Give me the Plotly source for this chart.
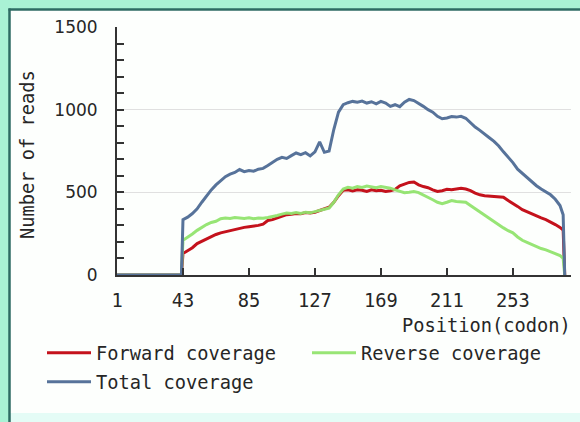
import plotly.graph_objects as go

# ---- data ----
codon = [1, 42, 43, 46, 49, 52, 55, 58, 61, 64, 67, 70, 73, 76, 79, 82, 85, 88, 91, 94, 97,
         100, 103, 106, 109, 112, 115, 118, 121, 124, 127, 130, 133, 136, 139, 142, 145,
         148, 151, 154, 157, 160, 163, 166, 169, 172, 175, 178, 181, 184, 187, 190, 193,
         196, 199, 202, 205, 208, 211, 214, 217, 220, 223, 226, 229, 232, 235, 238, 241,
         244, 247, 250, 253, 256, 259, 262, 265, 268, 271, 274, 277, 280, 283, 285, 286]

total = [0, 0, 335, 350, 372, 400, 440, 480, 515, 545, 568, 595, 610, 620, 638, 625, 632, 628,
         640, 645, 662, 682, 700, 712, 705, 722, 738, 728, 740, 720, 745, 805, 742, 750, 880,
         985, 1030, 1042, 1050, 1045, 1052, 1040, 1048, 1035, 1050, 1040, 1020, 1030, 1018,
         1045, 1062, 1055, 1040, 1020, 1000, 985, 960, 945, 950, 958, 955, 960, 948, 920, 895,
         875, 850, 830, 808, 780, 745, 715, 680, 640, 615, 585, 560, 540, 520, 500, 485, 458,
         420, 365, 0]

forward = [0, 0, 130, 145, 165, 190, 205, 215, 235, 245, 255, 262, 270, 275, 283, 288, 292,
           295, 300, 308, 330, 335, 345, 352, 365, 368, 372, 370, 378, 375, 380, 390, 400, 410,
           440, 480, 512, 515, 508, 515, 512, 505, 515, 510, 512, 505, 510, 518, 540, 552, 560,
           562, 545, 535, 528, 515, 505, 510, 518, 515, 522, 525, 520, 510, 495, 485, 480, 478,
           475, 474, 470, 450, 435, 415, 395, 382, 370, 358, 345, 335, 322, 305, 288, 272, 0]

reverse = [0, 0, 210, 228, 248, 270, 290, 305, 318, 325, 340, 345, 342, 348, 345, 342, 346,
           340, 345, 343, 348, 352, 360, 368, 375, 372, 378, 372, 380, 376, 382, 390, 398, 405,
           440, 485, 520, 530, 525, 535, 530, 538, 532, 528, 535, 530, 525, 515, 505, 498, 500,
           505, 498, 485, 470, 455, 440, 432, 440, 450, 445, 442, 440, 420, 400, 380, 362, 340,
           320, 305, 285, 268, 255, 230, 210, 198, 185, 170, 160, 152, 140, 130, 118, 100, 0]

x_ticks = [1, 43, 85, 127, 169, 211, 253]
y_ticks = [0, 500, 1000, 1500]
series_names = ["Forward coverage", "Reverse coverage", "Total coverage"]

# ---- style ----
W, H = 580, 422
ML, MR, MT, MB = 117, 9, 27, 147
PW, PH = W - ML - MR, H - MT - MB
MONO = "DejaVu Sans Mono"
TXT = "#262626"


def px(xp):
    return (xp - ML) / PW


def py(yp):
    return (H - MB - yp) / PH


fig = go.Figure()
fig.add_trace(go.Scatter(x=codon, y=forward, mode="lines", name=series_names[0],
                         line=dict(color="#c4121c", width=3), legend="legend"))
fig.add_trace(go.Scatter(x=codon, y=reverse, mode="lines", name=series_names[1],
                         line=dict(color="#92e46e", width=3), opacity=0.95, legend="legend"))
fig.add_trace(go.Scatter(x=codon, y=total, mode="lines", name=series_names[2],
                         line=dict(color="#57739a", width=3), legend="legend2"))

shapes = [
    # panel background
    dict(type="rect", xref="paper", yref="paper", x0=px(9), x1=px(585), y0=py(413), y1=py(9),
         fillcolor="#fdfffd", line=dict(width=0), layer="below"),
    # bottom pale strip
    dict(type="rect", xref="paper", yref="paper", x0=px(9), x1=px(585), y0=py(425), y1=py(413),
         fillcolor="#e4fcf6", line=dict(width=0), layer="below"),
    # dark inner border lines (left and top)
    dict(type="line", xref="paper", yref="paper", x0=px(9.5), x1=px(9.5), y0=py(425), y1=py(8.5),
         line=dict(color="#2e6b63", width=2.5), layer="below"),
    dict(type="line", xref="paper", yref="paper", x0=px(8.5), x1=px(585), y0=py(9.5), y1=py(9.5),
         line=dict(color="#2e6b63", width=2.5), layer="below"),
]

fig.update_layout(
    width=W, height=H,
    margin=dict(l=ML, r=MR, t=MT, b=MB, pad=0),
    paper_bgcolor="#a9f2d5",
    plot_bgcolor="rgba(0,0,0,0)",
    shapes=shapes,
    showlegend=True,
    legend=dict(orientation="h", x=px(42), y=py(353), xanchor="left", yanchor="middle",
                font=dict(family=MONO, size=18.7, color=TXT), bgcolor="rgba(0,0,0,0)",
                entrywidth=206, entrywidthmode="pixels", itemwidth=44, borderwidth=0),
    legend2=dict(orientation="h", x=px(42), y=py(382), xanchor="left", yanchor="middle",
                 font=dict(family=MONO, size=18.7, color=TXT), bgcolor="rgba(0,0,0,0)",
                 itemwidth=44, borderwidth=0),
    xaxis=dict(range=[1, 290], tickmode="array", tickvals=x_ticks,
               ticktext=[str(v) for v in x_ticks], ticks="inside", ticklen=7, tickwidth=2,
               tickcolor="#333333", showline=True, linecolor="#333333", linewidth=2,
               showgrid=False, zeroline=False,
               tickfont=dict(family=MONO, size=18.7, color=TXT), ticklabelstandoff=8),
    yaxis=dict(range=[0, 1500], tickmode="array", tickvals=y_ticks,
               ticktext=[str(v) for v in y_ticks], ticks="inside", ticklen=7, tickwidth=2,
               tickcolor="#333333", showline=True, linecolor="#333333", linewidth=2,
               showgrid=True, gridcolor="#e0e0e0", gridwidth=1, zeroline=False,
               minor=dict(dtick=100, tick0=0, ticks="inside", ticklen=7, tickwidth=2,
                          tickcolor="#333333", showgrid=False),
               tickfont=dict(family="DejaVu Sans", size=17, color=TXT), ticklabelstandoff=14),
    annotations=[
        dict(text="Position(codon)", xref="paper", yref="paper", x=px(573), y=py(325),
             xanchor="right", yanchor="middle", showarrow=False,
             font=dict(family=MONO, size=18.7, color=TXT)),
        dict(text="Number of reads", xref="paper", yref="paper", x=px(27), y=py(155),
             xanchor="center", yanchor="middle", textangle=-90, showarrow=False,
             font=dict(family=MONO, size=18.7, color=TXT)),
    ],
)

fig.write_html("out.html", config={"displayModeBar": False},
               post_script="document.body.style.margin='0';document.body.style.padding='0';")
